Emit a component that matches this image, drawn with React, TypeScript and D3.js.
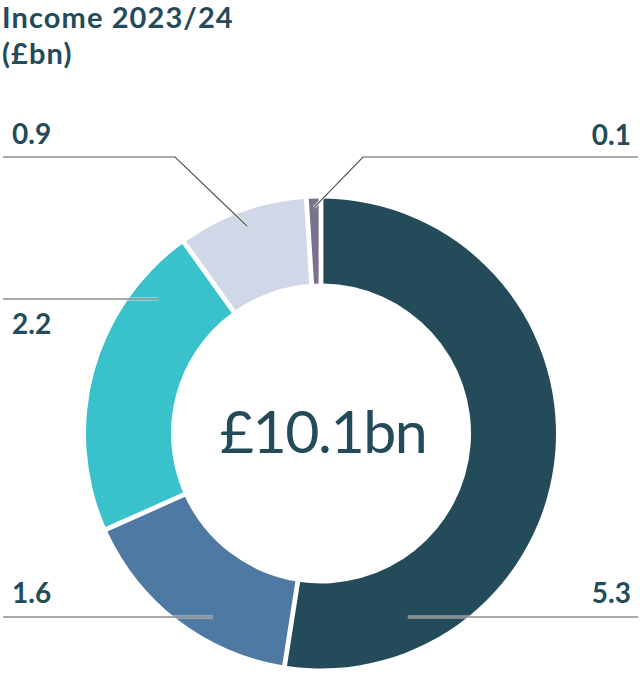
import React from "react";
import * as d3 from "d3";

const categories = ["A", "B", "C", "D", "E"];
const values = [5.3, 1.6, 2.2, 0.9, 0.1];
const valueLabels = ["5.3", "1.6", "2.2", "0.9", "0.1"];
const colors = ["#244B5A", "#4E79A3", "#39C1CC", "#D0D8E8", "#78728F"];
const totalLabel = "£10.1bn";
const titleLines = ["Income 2023/24", "(£bn)"];

const W = 643;
const H = 675;
const cx = 321;
const cy = 433.5;
const outerR = 235;
const innerR = 150;
const textColor = "#234B5A";
const lineColor = "#555555";
const font = "Lato, 'Open Sans', sans-serif";

// label layout: side, line y, text baseline, end mode
const labelLayout = [
  { side: "right", lineY: 617, textY: 603, mode: "h", r: 203 },
  { side: "left", lineY: 617, textY: 603, mode: "h", r: 213 },
  { side: "left", lineY: 299, textY: 334, mode: "h", r: 211 },
  { side: "left", lineY: 157, textY: 144, mode: "d", r: 220, elbowX: 175 },
  { side: "right", lineY: 157, textY: 145, mode: "d", r: 226, elbowX: 363 },
];

export default function App() {
  const pie = d3.pie<number>().sort(null).value((d) => d);
  const arcs = pie(values);
  const padR = Math.sqrt(innerR * innerR + outerR * outerR);
  const arcGen = d3
    .arc<d3.PieArcDatum<number>>()
    .innerRadius(innerR)
    .outerRadius(outerR)
    .padAngle(4.8 / padR)
    .padRadius(padR);

  return (
    <svg
      width={W}
      height={H}
      style={{ position: "absolute", left: 0, top: 0, background: "#fff" }}
    >
      {titleLines.map((t, i) => (
        <text
          key={t}
          x={2}
          y={28 + i * 36}
          fill={textColor}
          fontFamily={font}
          fontWeight={700}
          fontSize={29}
          letterSpacing={1.1}
        >
          {t}
        </text>
      ))}
      <g transform={`translate(${cx},${cy})`}>
        {arcs.map((a, i) => (
          <path key={categories[i]} d={arcGen(a) || ""} fill={colors[i]} />
        ))}
        <text
          x={2}
          y={19}
          textAnchor="middle"
          fill={textColor}
          fontFamily={font}
          fontWeight={400}
          fontSize={59}
          letterSpacing={-1.5}
        >
          {totalLabel}
        </text>
      </g>
      {arcs.map((a, i) => {
        const L = labelLayout[i];
        const outerX = L.side === "left" ? 3 : 638;
        let pts: [number, number][];
        if (L.mode === "h") {
          const dy = L.lineY - cy;
          const dx = Math.sqrt(L.r * L.r - dy * dy);
          const ex = cx + (L.side === "left" ? -dx : dx);
          pts = [
            [outerX, L.lineY],
            [ex, L.lineY],
          ];
        } else {
          const mid = (a.startAngle + a.endAngle) / 2;
          const ex = cx + L.r * Math.sin(mid);
          const ey = cy - L.r * Math.cos(mid);
          pts = [
            [outerX, L.lineY],
            [L.elbowX as number, L.lineY],
            [ex, ey],
          ];
        }
        const d = d3.line()(pts) || "";
        return (
          <g key={"l" + i}>
            <path d={d} fill="none" stroke="#ffffff" strokeWidth={3} strokeOpacity={0.7} />
            <path d={d} fill="none" stroke={lineColor} strokeWidth={1.2} />
            <text
              x={L.side === "left" ? 12 : 631}
              y={L.textY}
              textAnchor={L.side === "left" ? "start" : "end"}
              fill={textColor}
              fontFamily={font}
              fontWeight={700}
              fontSize={28}
            >
              {valueLabels[i]}
            </text>
          </g>
        );
      })}
    </svg>
  );
}
